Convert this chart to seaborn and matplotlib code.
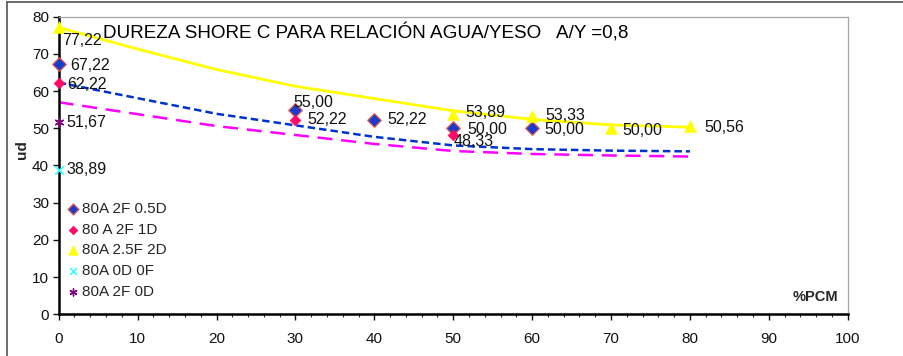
import matplotlib
matplotlib.use("Agg")
import matplotlib.pyplot as plt
from matplotlib.lines import Line2D
from matplotlib.ticker import MultipleLocator
import seaborn as sns

# Measured hardness values (Shore C) vs %PCM
s1_name = "80A 2F 0.5D"
s1_x = [0, 30, 40, 50, 60]
s1_y = [67.22, 55.00, 52.22, 50.00, 50.00]

s2_name = "80 A 2F 1D"
s2_x = [0, 30, 50]
s2_y = [62.22, 52.22, 48.33]

s3_name = "80A 2.5F 2D"
s3_x = [0, 50, 60, 70, 80]
s3_y = [77.22, 53.89, 53.33, 50.00, 50.56]

s4_name = "80A 0D 0F"
s4_x = [0]
s4_y = [38.89]

s5_name = "80A 2F 0D"
s5_x = [0]
s5_y = [51.67]

# Trend curves
trend_x = [0, 10, 20, 30, 40, 50, 60, 70, 80]
trend_yellow = [77.1, 71.3, 65.8, 61.3, 58.0, 54.7, 52.4, 50.9, 50.3]
trend_blue = [62.3, 58.1, 53.9, 50.8, 47.7, 45.4, 44.4, 44.0, 43.8]
trend_magenta = [57.0, 53.8, 50.6, 48.2, 45.8, 43.9, 43.1, 42.7, 42.4]

sns.set_style("white")
plt.rcParams["font.family"] = ["Liberation Sans", "DejaVu Sans"]

fig = plt.figure(figsize=(9.04, 3.56), dpi=100)
ax = fig.add_axes([58.7 / 904, 1 - 314.3 / 356, 789 / 904, 297.6 / 356])

# trend lines
sns.lineplot(x=trend_x, y=trend_yellow, ax=ax, color="#ffff00", lw=2.0, zorder=2)
sns.lineplot(x=trend_x, y=trend_blue, ax=ax, color="#0033cc", lw=1.8,
             linestyle=(0, (3, 1.6)), zorder=2)
sns.lineplot(x=trend_x, y=trend_magenta, ax=ax, color="#ff00ff", lw=1.8,
             linestyle=(0, (6, 3.5)), zorder=2)

# data markers
sns.scatterplot(x=s1_x, y=s1_y, ax=ax, marker="D", s=48, color="#1a3ccc",
                edgecolor="#e05a4a", linewidth=0.9, label=s1_name, zorder=4,
                clip_on=False)
sns.scatterplot(x=s2_x, y=s2_y, ax=ax, marker="D", s=30, color="#ff0a66",
                edgecolor="#ff0a66", linewidth=0.5, label=s2_name, zorder=5,
                clip_on=False)
sns.scatterplot(x=s3_x, y=s3_y, ax=ax, marker="^", s=70, color="#ffff00",
                edgecolor="#ffff00", linewidth=0.5, label=s3_name, zorder=4,
                clip_on=False)
sns.scatterplot(x=s4_x, y=s4_y, ax=ax, marker="x", s=36, color="#33ffff",
                linewidth=1.2, label=s4_name, zorder=4, clip_on=False)
sns.scatterplot(x=s5_x, y=s5_y, ax=ax, marker=(6, 2, 0), s=40, color="#800080",
                linewidth=1.0, label=s5_name, zorder=4, clip_on=False)

# value labels
def fmt(v):
    return f"{v:.2f}".replace(".", ",")

lab_kw = dict(fontsize=11.5, color="#111111", va="center", zorder=6)

def label(x, y, dx, dy):
    ax.annotate(fmt(y), (x, y), xytext=(dx, dy), textcoords="offset pixels",
                **lab_kw)

label(s1_x[0], s1_y[0], 12, -1)
label(s1_x[1], s1_y[1], -2, 7)
label(s1_x[2], s1_y[2], 13, 1)
label(s1_x[3], s1_y[3], 14, -1)
label(s1_x[4], s1_y[4], 12, -1)
label(s2_x[0], s2_y[0], 9, -2)
label(s2_x[1], s2_y[1], 12, 1)
label(s2_x[2], s2_y[2], 0, -7)
label(s3_x[0], s3_y[0], 3, -13)
label(s3_x[1], s3_y[1], 12, 1)
label(s3_x[2], s3_y[2], 13, 0)
label(s3_x[3], s3_y[3], 11, -2)
label(s3_x[4], s3_y[4], 14, -1)
label(s4_x[0], s4_y[0], 8, 0)
label(s5_x[0], s5_y[0], 8, 0)

ax.set_xlim(0, 100)
ax.set_ylim(0, 80)
ax.xaxis.set_major_locator(MultipleLocator(10))
ax.xaxis.set_minor_locator(MultipleLocator(2))
ax.yaxis.set_major_locator(MultipleLocator(10))
ax.tick_params(axis="x", which="major", direction="out", length=4, width=1,
               pad=9, labelsize=11, colors="#111111", bottom=True)
ax.tick_params(axis="x", which="minor", direction="out", length=2.5, width=0.8,
               bottom=True)
ax.tick_params(axis="y", which="major", direction="out", length=4, width=1,
               pad=3, labelsize=11, colors="#111111", left=True)
for side in ("left", "bottom"):
    ax.spines[side].set_color("black")
    ax.spines[side].set_linewidth(1.8)
for side in ("top", "right"):
    ax.spines[side].set_color("#a6a6a6")
    ax.spines[side].set_linewidth(0.9)

ax.set_xlabel("")
ax.set_ylabel("")
ax.text(0.056, 0.945, "DUREZA SHORE C PARA RELACIÓN AGUA/YESO   A/Y =0,8",
        transform=ax.transAxes, fontsize=13.6, va="center", ha="left", color="black")
ax.text(0.988, 0.058, "%PCM", transform=ax.transAxes, fontsize=10.5,
        fontweight="bold", ha="right", va="center")
fig.text(22 / 904, 1 - 150 / 356, "ud", rotation=90, fontsize=11,
         fontweight="bold", ha="center", va="center")

leg = ax.legend(loc="lower left", bbox_to_anchor=(-0.005, 0.02), frameon=False,
                fontsize=11, handletextpad=0.0, labelspacing=0.45,
                borderaxespad=0.2, handlelength=1.2, markerscale=0.8)

# outer chart border
fig.add_artist(Line2D([7 / 904, 1.0], [1 - 2 / 356, 1 - 2 / 356],
                      transform=fig.transFigure, color="#555555", lw=1.2))
fig.add_artist(Line2D([7 / 904, 7 / 904], [0.0, 1 - 2 / 356],
                      transform=fig.transFigure, color="#555555", lw=1.2))

fig.savefig("out.png", dpi=100)
